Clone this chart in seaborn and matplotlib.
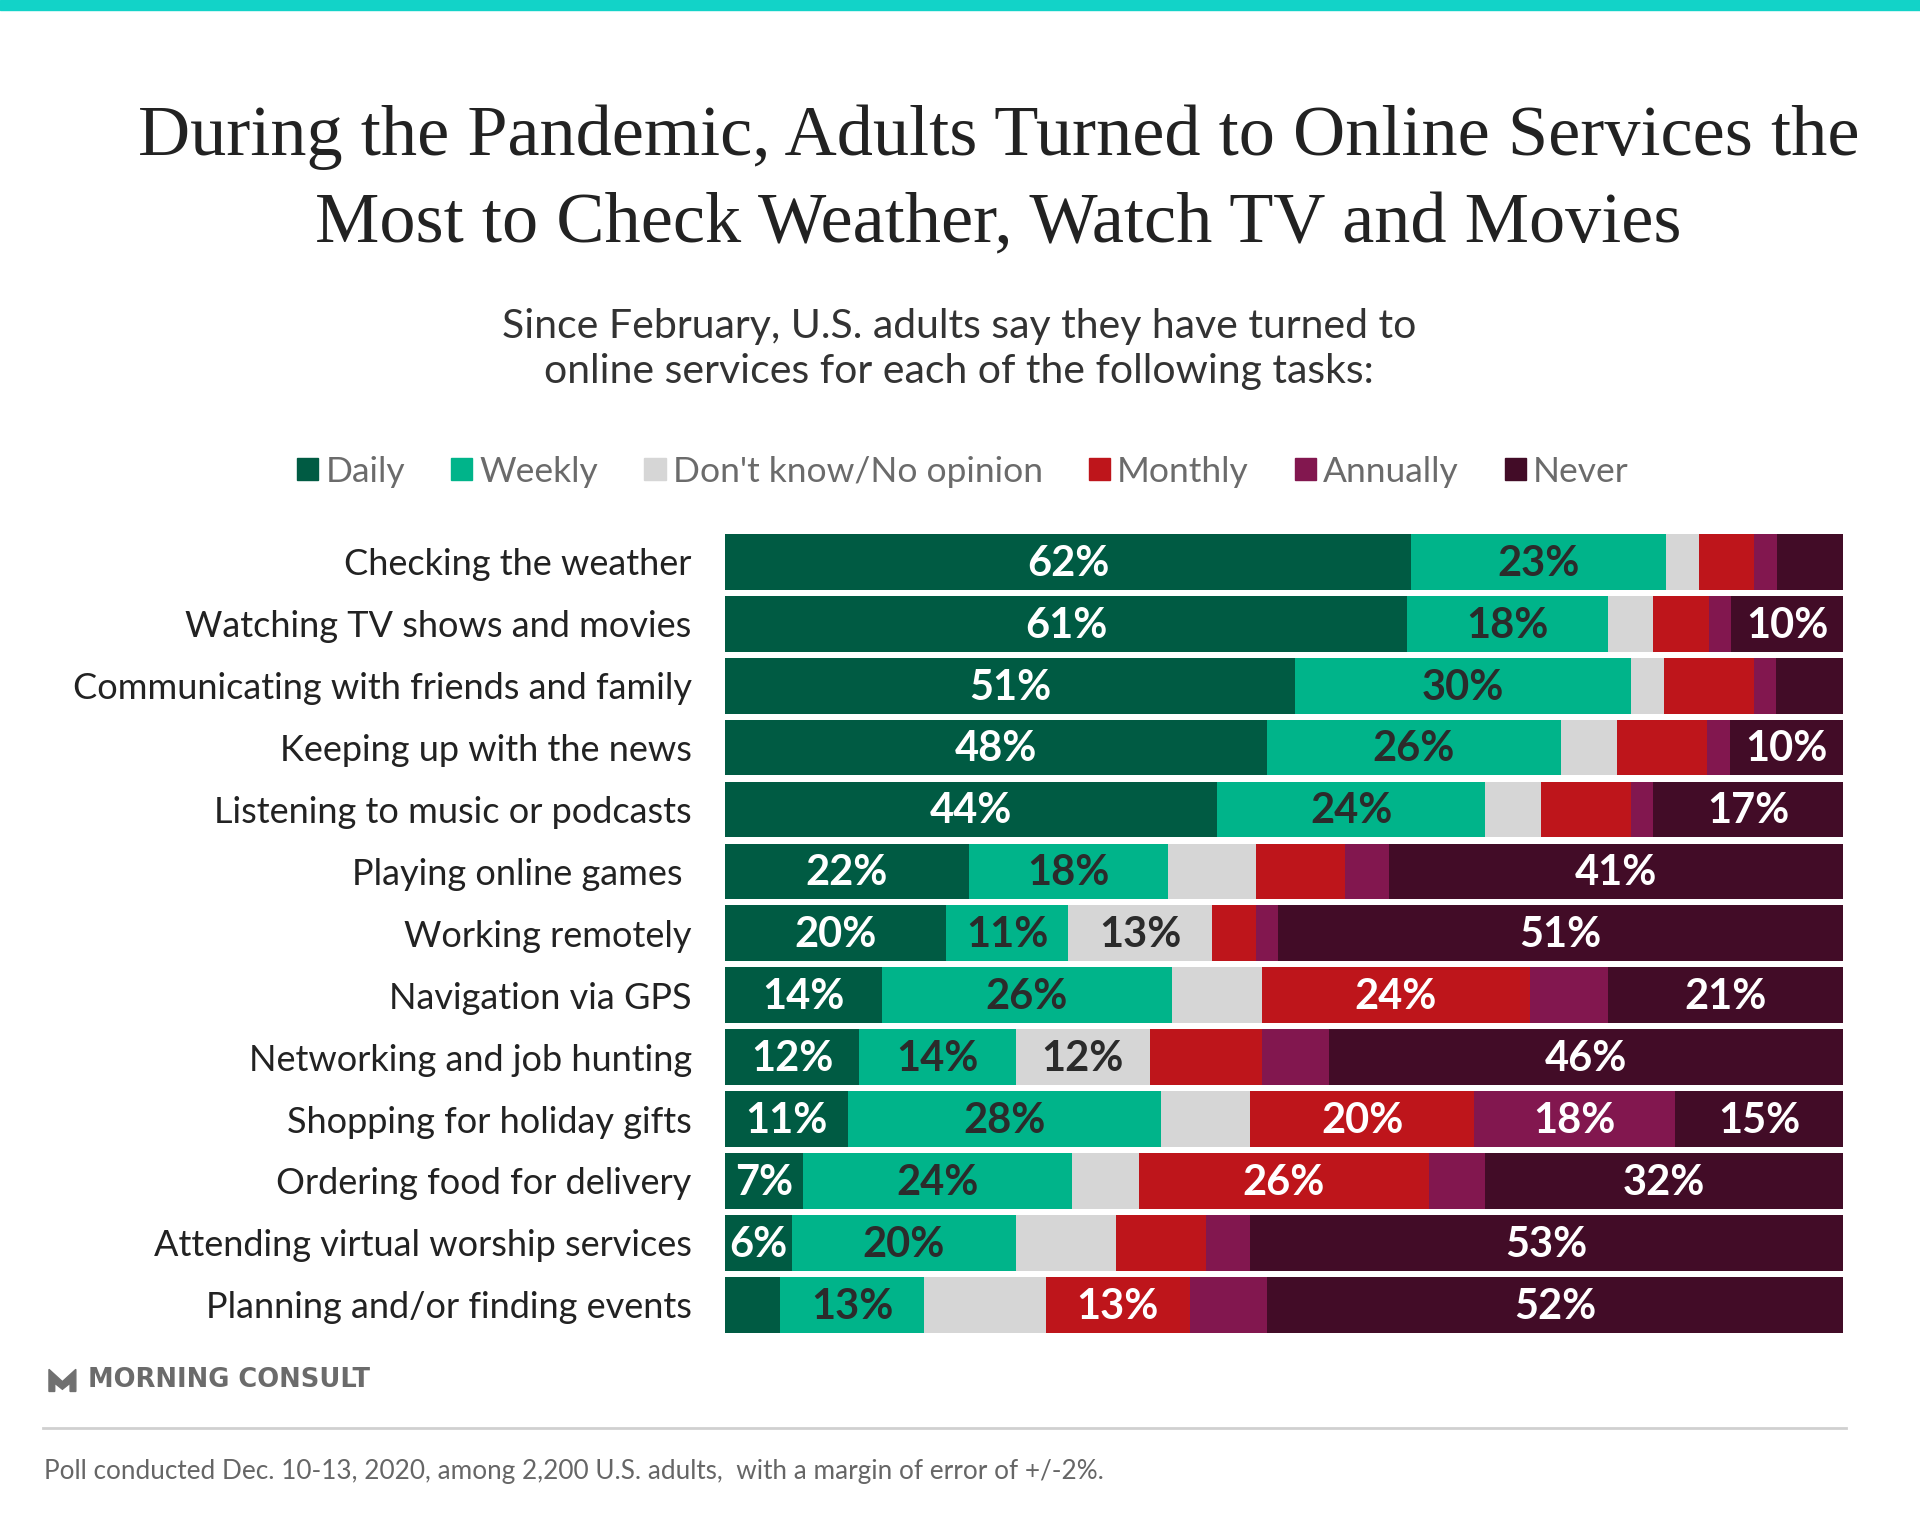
import numpy as np
import pandas as pd
import matplotlib
matplotlib.use("Agg")
import matplotlib.pyplot as plt
import seaborn as sns
from matplotlib.patches import Rectangle, Polygon
from matplotlib.lines import Line2D

# --- data (percent of U.S. adults) ---
tasks = [
    "Checking the weather",
    "Watching TV shows and movies",
    "Communicating with friends and family",
    "Keeping up with the news",
    "Listening to music or podcasts",
    "Playing online games ",
    "Working remotely",
    "Navigation via GPS",
    "Networking and job hunting",
    "Shopping for holiday gifts",
    "Ordering food for delivery",
    "Attending virtual worship services",
    "Planning and/or finding events",
]
daily = [62, 61, 51, 48, 44, 22, 20, 14, 12, 11, 7, 6, 5]
weekly = [23, 18, 30, 26, 24, 18, 11, 26, 14, 28, 24, 20, 13]
dont_know = [3, 4, 3, 5, 5, 8, 13, 8, 12, 8, 6, 9, 11]
monthly = [5, 5, 8, 8, 8, 8, 4, 24, 10, 20, 26, 8, 13]
annually = [2, 2, 2, 2, 2, 4, 2, 7, 6, 18, 5, 4, 7]
never = [6, 10, 6, 10, 17, 41, 51, 21, 46, 15, 32, 53, 52]

# which segments carry a printed label in the original
daily_lbl = [1, 1, 1, 1, 1, 1, 1, 1, 1, 1, 1, 1, 0]
weekly_lbl = [1, 1, 1, 1, 1, 1, 1, 1, 1, 1, 1, 1, 1]
dont_know_lbl = [0, 0, 0, 0, 0, 0, 1, 0, 1, 0, 0, 0, 0]
monthly_lbl = [0, 0, 0, 0, 0, 0, 0, 1, 0, 1, 1, 0, 1]
annually_lbl = [0, 0, 0, 0, 0, 0, 0, 0, 0, 1, 0, 0, 0]
never_lbl = [0, 1, 0, 1, 1, 1, 1, 1, 1, 1, 1, 1, 1]

series_names = ["Daily", "Weekly", "Don't know/No opinion", "Monthly", "Annually", "Never"]
series_vals = [daily, weekly, dont_know, monthly, annually, never]
series_lbls = [daily_lbl, weekly_lbl, dont_know_lbl, monthly_lbl, annually_lbl, never_lbl]
colors = ["#005b43", "#00b48a", "#d6d6d6", "#be151b", "#82174f", "#420c27"]
text_colors = ["white", "#2b2b2b", "#2b2b2b", "white", "white", "white"]

df = pd.DataFrame(dict(zip(series_names, series_vals)), index=tasks)
# each bar fills the full width, so scale rows to their total
share = df.div(df.sum(axis=1), axis=0) * 100
cum = share.cumsum(axis=1)

sans = ["Lato", "DejaVu Sans"]
plt.rcParams["font.family"] = sans

fig = plt.figure(figsize=(19.2, 15.36), dpi=100)
fig.patch.set_facecolor("white")

# top accent band
fig.patches.append(Rectangle((0, 0.9936), 1, 0.0064, transform=fig.transFigure,
                             color="#12d3c8", zorder=0))

fig.text(0.52, 0.8824, "During the Pandemic, Adults Turned to Online Services the\n"
         "Most to Check Weather, Watch TV and Movies",
         ha="center", va="center", fontsize=52, family="Liberation Serif",
         color="#222222", linespacing=1.45)

fig.text(0.4994, 0.7727, "Since February, U.S. adults say they have turned to\n"
         "online services for each of the following tasks:",
         ha="center", va="center", fontsize=29.5, color="#333333", linespacing=1.25)

ax = fig.add_axes([0.3776, 0.1324, 0.5823, 0.5199])

# stacked bars: draw cumulative totals from the widest down so each layer covers the next
for k in range(len(series_names) - 1, -1, -1):
    col = series_names[k]
    sns.barplot(x=cum[col].values, y=tasks, color=colors[k], saturation=1,
                width=0.9, linewidth=0, orient="h", ax=ax)

for k, col in enumerate(series_names):
    for i, task in enumerate(tasks):
        if series_lbls[k][i]:
            left = cum[col].iloc[i] - share[col].iloc[i]
            ax.text(left + share[col].iloc[i] / 2, i + 0.03, f"{series_vals[k][i]}%",
                    ha="center", va="center", fontsize=30, fontweight="bold",
                    color=text_colors[k])

ax.set_xlim(0, 100)
ax.set_ylim(len(tasks) - 0.55, -0.45)
ax.set_xlabel("")
ax.set_ylabel("")
ax.set_xticks([])
ax.tick_params(axis="y", length=0, pad=24, labelsize=26, labelcolor="#222222")
for s in ax.spines.values():
    s.set_visible(False)

handles = [Rectangle((0, 0), 1, 1, color=c) for c in colors]
leg = fig.legend(handles, series_names, loc="center", bbox_to_anchor=(0.5016, 0.693),
                 ncol=6, frameon=False, fontsize=25.5, handlelength=0.6, handleheight=0.6,
                 handletextpad=0.2, columnspacing=1.3)
for t in leg.get_texts():
    t.set_color("#6b6b6b")

# footer: brand mark, rule and note
logo = [(0.0255, 0.1085), (0.0325, 0.1005), (0.0395, 0.1085), (0.0395, 0.0941),
        (0.0365, 0.0941), (0.0365, 0.0995), (0.0325, 0.0955), (0.0285, 0.0995),
        (0.0285, 0.0941), (0.0255, 0.0941)]
fig.patches.append(Polygon(logo, closed=True, transform=fig.transFigure,
                           color="#707070"))
fig.text(0.046, 0.1018, "MORNING CONSULT", ha="left", va="center", fontsize=18.5,
         fontweight="bold", family="DejaVu Sans", color="#6b6b6b")
fig.lines.append(Line2D([0.0223, 0.9617], [0.0702, 0.0702], transform=fig.transFigure,
                        color="#d0d0d0", linewidth=2))
fig.text(0.023, 0.0423, "Poll conducted Dec. 10-13, 2020, among 2,200 U.S. adults,  "
         "with a margin of error of +/-2%.", ha="left", va="center",
         fontsize=18.8, color="#666666")

fig.savefig("out.png", dpi=100, facecolor="white")
plt.close(fig)
